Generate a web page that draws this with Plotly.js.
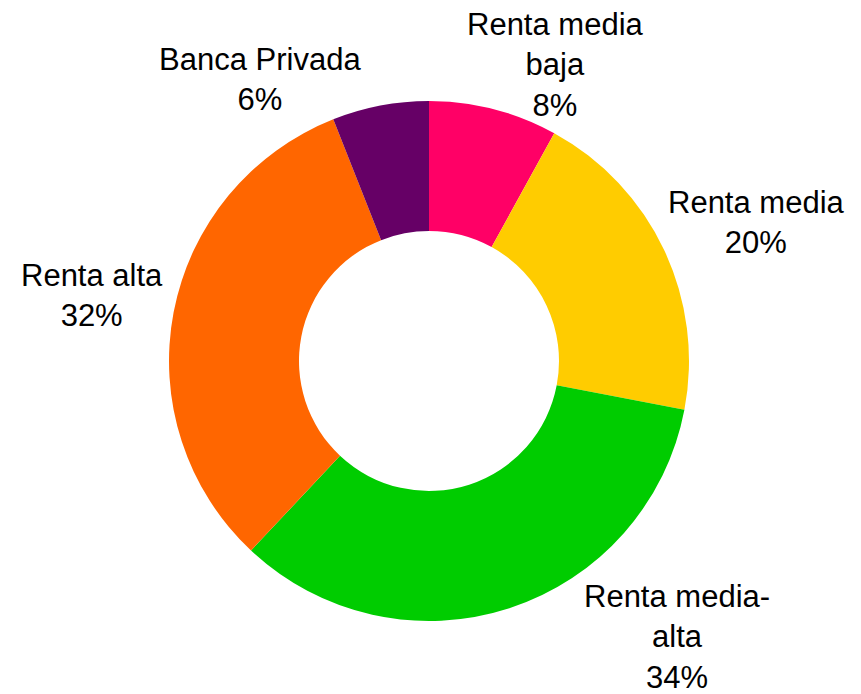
<!DOCTYPE html>
<html>
<head>
<meta charset="utf-8">
<script src="https://cdn.plot.ly/plotly-3.0.1.min.js"></script>
<style>html,body{margin:0;padding:0;background:#fff;}#chart{width:861px;height:694px;}</style>
</head>
<body>
<div id="chart"></div>
<script>
const categories = ["Renta media baja", "Renta media", "Renta media-alta", "Renta alta", "Banca Privada"];
const displayLabels = ["Renta media<br>baja", "Renta media", "Renta media-<br>alta", "Renta alta", "Banca Privada"];
const values = [8, 20, 34, 32, 6];
const colors = ["#FF0066", "#FFCC00", "#00CC00", "#FF6600", "#660066"];
// label block centers (pixels)
const labelX = [555, 756, 677, 92, 260];
const labelY = [65, 223, 637, 295, 79];

const W = 861, H = 694;
const total = values.reduce((a, b) => a + b, 0);

const trace = {
  type: "pie",
  labels: categories,
  values: values,
  hole: 0.5,
  sort: false,
  direction: "clockwise",
  rotation: 0,
  textinfo: "none",
  hoverinfo: "label+percent",
  marker: { colors: colors, line: { width: 0 } },
  domain: { x: [169 / W, 689 / W], y: [1 - 621 / H, 1 - 101 / H] },
  showlegend: false
};

const annotations = categories.map((c, i) => ({
  xref: "paper", yref: "paper",
  x: labelX[i] / W, y: 1 - labelY[i] / H,
  xanchor: "center", yanchor: "middle",
  align: "center",
  showarrow: false,
  text: displayLabels[i] + "<br>" + Math.round(values[i] / total * 100) + "%",
  font: { family: "Liberation Sans, Arial, sans-serif", size: 31, color: "#000" }
}));

const layout = {
  width: W, height: H,
  margin: { l: 0, r: 0, t: 0, b: 0 },
  paper_bgcolor: "#fff",
  plot_bgcolor: "#fff",
  annotations: annotations
};

Plotly.newPlot("chart", [trace], layout, { displayModeBar: false, staticPlot: true });
</script>
</body>
</html>
